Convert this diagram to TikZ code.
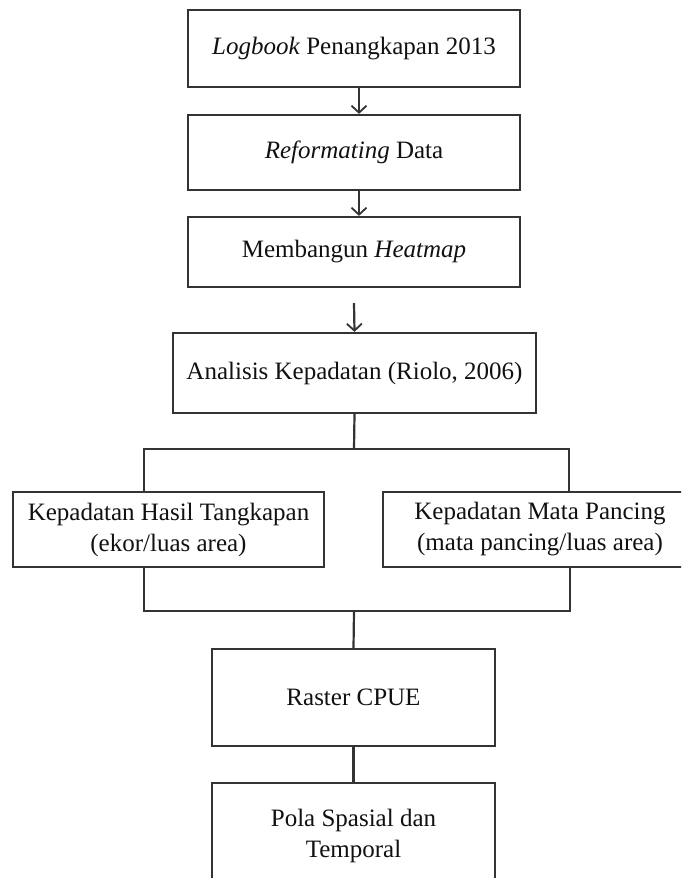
\documentclass[tikz,border=0pt]{standalone}
\usepackage{fontspec}
\setmainfont{Liberation Serif}
\usetikzlibrary{arrows.meta}
\definecolor{linec}{HTML}{333333}
\definecolor{textc}{HTML}{111111}
\tikzset{
  box/.style={draw=linec, line width=2.2pt, rectangle, inner sep=0pt, align=center,
    text=textc, font=\fontsize{25}{31}\selectfont},
  conn/.style={draw=linec, line width=2.2pt},
  arr/.style={conn, -{Straight Barb[length=7pt,width=15pt,line width=1.8pt]}}
}
\begin{document}
\begin{tikzpicture}[x=1pt,y=-1pt]
\useasboundingbox (0,0) rectangle (681,878);
\clip (0,0) rectangle (681,878);
\fill[white] (0,0) rectangle (681,878);

\node[box, minimum width=332pt, minimum height=77pt] (b1) at (354,48.5) {\textit{Logbook} Penangkapan 2013};
\node[box, minimum width=332pt, minimum height=75pt] (b2) at (354,152.5) {\textit{Reformating} Data};
\node[box, minimum width=332pt, minimum height=70pt] (b3) at (354,252) {Membangun \textit{Heatmap}};
\node[box, minimum width=363pt, minimum height=80pt] (b4) at (354.5,373) {Analisis Kepadatan (Riolo, 2006)};
\node[box, minimum width=311pt, minimum height=75pt] (b5) at (168.5,529.5) {Kepadatan Hasil Tangkapan\\(ekor/luas area)};
\node[box, minimum width=314pt, minimum height=75pt] (b6) at (540,529.5) {Kepadatan Mata Pancing\\(mata pancing/luas area)};
\node[box, minimum width=283pt, minimum height=97pt] (b7) at (353.5,697.5) {Raster CPUE};
\node[box, minimum width=283pt, minimum height=106pt] (b8) at (353.5,836) {Pola Spasial dan\\Temporal};

\coordinate (s) at (354,449);
\coordinate (sl) at (144,449);
\coordinate (sr) at (569,449);
\coordinate (m) at (354,611);
\coordinate (ml) at (144,611);
\coordinate (mr) at (570,611);

\draw[arr] ([xshift=5pt]b1.south) -- ([xshift=5pt]b2.north);
\draw[arr] ([xshift=5pt]b2.south) -- ([xshift=5pt]b3.north);
\draw[arr] ([yshift=-15pt]b3.south) -- (b4.north);
\draw[conn] (b4.south) -- (s);
\draw[conn] (b5.north -| sl) -- (sl) -- (sr) -- (b6.north -| sr);
\draw[conn] (b5.south -| ml) -- (ml) -- (mr) -- (b6.south -| mr);
\draw[conn] (m) -- (b7.north);
\draw[conn] (b7.south) -- (b8.north);
\end{tikzpicture}
\end{document}
